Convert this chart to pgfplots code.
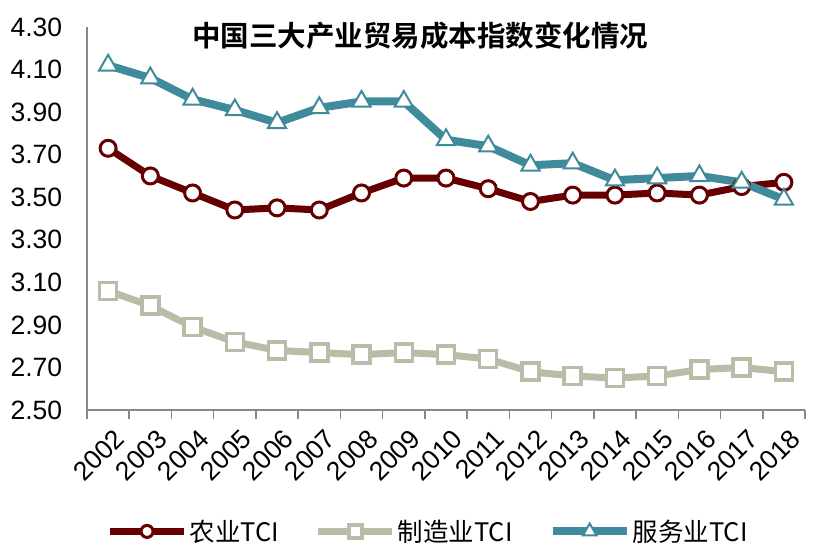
\documentclass[border=0pt]{standalone}
\usepackage{pgfplots}
\pgfplotsset{compat=1.18}
\usepackage{fontspec}
\setmainfont{Liberation Sans}
\newfontfamily\cjk{Noto Sans CJK SC}
\newfontfamily\cjkb{Noto Sans CJK SC Bold}
\definecolor{agri}{HTML}{660000}
\definecolor{manu}{HTML}{BBBBA8}
\definecolor{serv}{HTML}{3F8A9B}
\definecolor{axgray}{HTML}{888888}
\pgfplotstableread{
x agri manu serv
0 3.73 3.06 4.12
1 3.60 2.99 4.06
2 3.52 2.89 3.96
3 3.44 2.82 3.91
4 3.45 2.78 3.85
5 3.44 2.77 3.92
6 3.52 2.76 3.95
7 3.59 2.77 3.95
8 3.59 2.76 3.77
9 3.54 2.74 3.74
10 3.48 2.68 3.65
11 3.51 2.66 3.66
12 3.51 2.65 3.58
13 3.52 2.66 3.59
14 3.51 2.69 3.60
15 3.55 2.70 3.57
16 3.57 2.68 3.49
}\datatable
\begin{document}
\begin{tikzpicture}
\useasboundingbox (-87pt,-140pt) rectangle (736pt,410pt);
\begin{axis}[
  at={(0pt,0pt)}, anchor=south west,
  scale only axis, width=718pt, height=383pt,
  xmin=-0.5, xmax=16.5, ymin=2.5, ymax=4.3,
  axis x line*=bottom, axis y line*=left,
  axis line style={axgray, line width=1.5pt},
  xtick={0,...,16},
  xticklabels={2002,2003,2004,2005,2006,2007,2008,2009,2010,2011,2012,2013,2014,2015,2016,2017,2018},
  minor xtick={-0.5,0.5,...,16.5},
  major x tick style={draw=none},
  minor x tick style={axgray, line width=1.5pt},
  minor tick length=9pt,
  tick align=outside,
  ytick={2.5,2.7,...,4.31},
  y tick style={draw=none},
  /pgf/number format/assume math mode=true,
  ticklabel style={font=\fontsize{26.5}{30}\selectfont},
  yticklabel style={xshift=-17pt, /pgf/number format/fixed, /pgf/number format/fixed zerofill, /pgf/number format/precision=2},
  xticklabel style={xshift=5pt, yshift=-13pt, rotate=45, anchor=north east, inner sep=0pt},
  legend style={at={(axis description cs:0.475,-0.317)}, anchor=center, draw=none,
    legend columns=3, font=\fontsize{25.5}{30}\selectfont\cjk,
    /tikz/every even column/.append style={column sep=34pt}},
  legend image code/.code={
    \draw[#1, mark repeat=2, mark phase=2, every mark/.append style={scale=0.75}] plot coordinates {(0pt,0pt) (37pt,0pt) (74pt,0pt)};
  },
  clip=false,
]
\addplot[agri, line width=7pt, mark=*, mark size=8pt, mark options={fill=white, draw=agri, line width=3pt}] table[x=x,y=agri] {\datatable};
\addlegendentry{农业TCI}
\addplot[manu, line width=7pt, mark=square*, mark size=8.5pt, mark options={fill=white, draw=manu, line width=3.5pt}] table[x=x,y=manu] {\datatable};
\addlegendentry{制造业TCI}
\addplot[serv, line width=8pt, mark=triangle*, mark size=10.5pt, mark options={fill=white, draw=serv, line width=2pt}] table[x=x,y=serv] {\datatable};
\addlegendentry{服务业TCI}
\node[font=\fontsize{28.5}{32}\selectfont\cjkb] at (axis description cs:0.464,0.978) {中国三大产业贸易成本指数变化情况};
\end{axis}
\end{tikzpicture}
\end{document}
